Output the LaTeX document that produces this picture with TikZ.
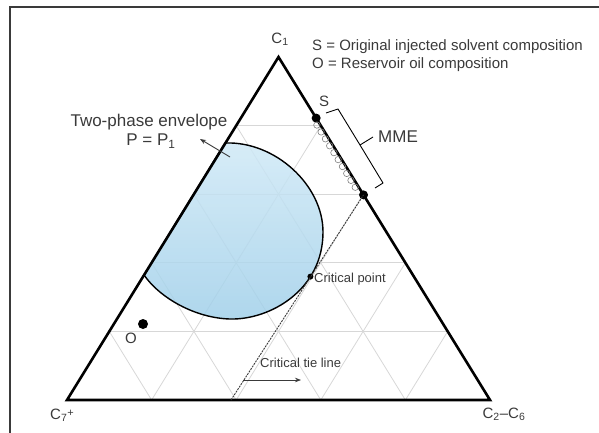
\documentclass[tikz,border=0pt]{standalone}
\usepackage{xcolor}
\usepackage{tikz}
\usepackage{fontspec}
\setmainfont{Liberation Sans}
\usetikzlibrary{arrows.meta, positioning, calc}
\definecolor{textgray}{RGB}{58, 58, 58}
\definecolor{gridgray}{RGB}{215, 215, 215}
\definecolor{envtop}{RGB}{208, 233, 246}
\definecolor{envbottom}{RGB}{160, 207, 233}

\begin{document}
\begin{tikzpicture}[x=1pt, y=-1pt,
  label/.style={text=textgray, inner sep=0pt, font=\fontsize{15}{17}\selectfont},
  small/.style={text=textgray, inner sep=0pt, font=\fontsize{13}{15}\selectfont},
  dot/.style={circle, fill=black, inner sep=0pt, minimum size=#1},
  dot/.default=9pt]
  \useasboundingbox (0,0) rectangle (599,432);
  % Frame
  \draw[line width=1.4pt, textgray] (10,440) -- (10,7) -- (610,7);

  % Corners
  \coordinate (c1) at (278.5,57);
  \coordinate (c7) at (67,400);
  \coordinate (c26) at (490,400);

  % Grid
  \foreach \i in {1,...,4} {
    \draw[gridgray, line width=0.8pt] ($(c7)!\i/5!(c1)$) -- ($(c26)!\i/5!(c1)$);
    \draw[gridgray, line width=0.8pt] ($(c7)!\i/5!(c26)$) -- ($(c1)!\i/5!(c26)$);
    \draw[gridgray, line width=0.8pt] ($(c26)!\i/5!(c7)$) -- ($(c1)!\i/5!(c7)$);
  }

  % Two-phase envelope
  \draw[line width=1.4pt, top color=envtop, bottom color=envbottom, fill opacity=0.85]
    (225,143) .. controls (275,141) and (323,185) .. (323,232)
    .. controls (323,290) and (270,320) .. (230,319)
    .. controls (195,318) and (160,298) .. (144,275) -- cycle;

  % Triangle
  \draw[line width=2.6pt, line join=miter] (c1) -- (c7) -- (c26) -- cycle;

  % Points
  \node[dot] (S) at ($(c1)!0.178!(c26)$) {};
  \node[dot] (M) at ($(c1)!0.402!(c26)$) {};
  \node[dot=10pt] (O) at (143,324) {};
  \node[dot=6pt] (crit) at (310.4,276.6) {};
  \coordinate (tiebase) at (231,400);

  % Contacts between S and M
  \foreach \t in {0.07,0.16,...,0.95}
    \draw[gray, line width=0.6pt] ($(S)!\t!(M) + (-2.6,1.6)$) circle (3.2);

  % Tie line
  \draw[line width=0.9pt, dash pattern=on 2pt off 1pt, textgray] (tiebase) -- (M.center);

  % Labels
  \node[label] (c1lab) at (280,39) {C\textsubscript{1}};
  \node[label] (c7lab) at (62,415) {C\textsubscript{7}\raisebox{0.3ex}{\fontsize{11}{13}\selectfont+}};
  \node[label] (c26lab) at (504,414) {C\textsubscript{2}--C\textsubscript{6}};
  \node[label, anchor=west] (legS) at (312,47) {S = Original injected solvent composition};
  \node[label, anchor=west] (legO) at (312,65) {O = Reservoir oil composition};
  \node[label] (Slab) at (324,101) {S};
  \node[label] (Olab) at (131,338) {O};
  \node[label, anchor=west, font=\fontsize{17}{19}\selectfont] (mme) at (378,137) {MME};
  \node[label, font=\fontsize{17}{19}\selectfont] (env) at (149,122) {Two-phase envelope};
  \node[label, font=\fontsize{17}{19}\selectfont] (envp) at (151,141) {P = P\textsubscript{1}};
  \node[small, anchor=west] (critlab) at (314,279) {Critical point};
  \node[small, anchor=west] (tielab) at (260,363) {Critical tie line};

  % MME bracket
  \coordinate (brtop) at (338,109);
  \coordinate (brmid) at (360,145);
  \coordinate (brbot) at (383,183);
  \draw[line width=0.9pt, line join=round] (326,113) -- (brtop) -- (brmid) -- (brbot) -- (375,188);
  \draw[line width=0.9pt] (brmid) -- ([xshift=-5pt]mme.west);

  % Arrows
  \coordinate (envtail) at (230,157);
  \coordinate (envhead) at (200,139);
  \draw[-{Stealth[length=6pt]}, line width=0.9pt, textgray] (envtail) -- (envhead);
  \coordinate (tietail) at (243,380);
  \coordinate (tiehead) at (301,380);
  \draw[-{Stealth[length=6pt]}, line width=0.7pt, textgray] (tietail) -- (tiehead);
\end{tikzpicture}
\end{document}
